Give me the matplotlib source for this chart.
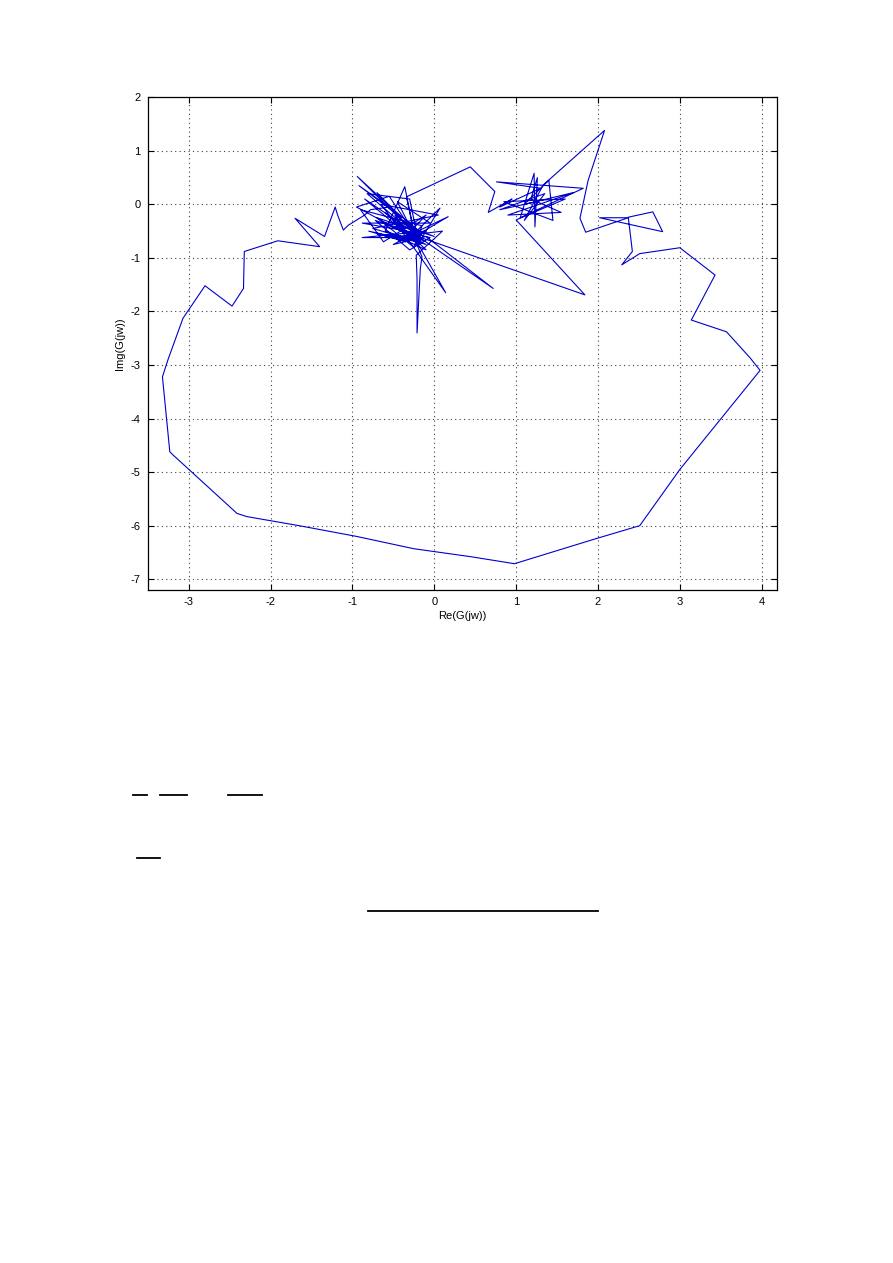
import numpy as np
import matplotlib
matplotlib.use('Agg')
import matplotlib.pyplot as plt
from matplotlib.lines import Line2D

plt.rcParams['font.family'] = ['Liberation Sans', 'DejaVu Sans']
plt.rcParams['axes.unicode_minus'] = False

# Nyquist path (Re, Im)
right_a = [(1.25, 0.05), (0.80, -0.10), (1.35, 0.20), (1.10, -0.30), (1.33, 0.36),
           (2.08, 1.38), (1.88, 0.45), (1.78, -0.26), (1.85, -0.52)]

tail = [(2.37, -0.25), (2.02, -0.25), (2.79, -0.51), (2.67, -0.14), (2.37, -0.24),
        (2.42, -0.88), (2.29, -1.13), (2.51, -0.92), (3.00, -0.81), (3.43, -1.32),
        (3.14, -2.16), (3.57, -2.38), (3.86, -2.87), (3.98, -3.10)]

loop = [(3.00, -4.95), (2.51, -6.00), (1.98, -6.24), (0.98, -6.71), (0.45, -6.58),
        (-0.25, -6.43), (-0.95, -6.20), (-1.65, -6.00), (-2.29, -5.83), (-2.41, -5.77),
        (-3.19, -4.68), (-3.23, -4.62), (-3.32, -3.22), (-3.25, -2.89), (-3.07, -2.13),
        (-2.80, -1.52)]

left_side = [(-2.47, -1.90), (-2.33, -1.57), (-2.32, -0.88), (-1.91, -0.68),
             (-1.40, -0.79), (-1.70, -0.26), (-1.34, -0.60), (-1.21, -0.05),
             (-1.18, -0.20), (-1.11, -0.48), (-1.05, -0.39), (-0.85, -0.20)]

center_a = [(-0.78, -0.10), (-0.55, -0.05), (-0.92, 0.35), (-0.40, -0.25), (-0.70, 0.22),
            (-0.30, -0.45), (-0.94, 0.52), (-0.50, -0.10), (-0.15, -0.55), (-0.88, -0.35),
            (-0.05, -0.35), (-0.45, 0.05), (-0.20, -0.70), (-0.75, -0.45), (0.05, -0.20),
            (-0.65, 0.00), (-0.35, -0.60), (-0.10, -0.20), (-0.62, -0.70), (-0.90, -0.10),
            (-0.15, -0.40), (-0.25, -0.80), (-0.70, -0.25), (0.00, -0.60), (-0.40, -0.35),
            (-0.82, 0.20), (-0.30, 0.10), (-0.20, -0.65), (-0.55, 0.15), (-0.95, -0.05),
            (-0.10, -0.75), (-0.60, -0.50), (-0.36, 0.33), (-0.25, -0.50), (-0.34, 0.14)]

right_b = [(0.44, 0.70), (0.74, 0.24), (0.66, -0.15), (0.95, 0.10), (0.80, -0.05),
           (1.30, 0.30), (0.76, 0.42), (1.82, 0.30), (1.05, -0.25), (1.22, 0.58),
           (1.23, -0.42), (1.26, 0.50), (1.18, 0.10), (1.55, -0.15), (0.90, -0.20),
           (1.70, 0.22), (1.10, 0.00), (1.40, 0.45), (1.45, -0.30), (0.85, 0.05),
           (1.60, 0.10), (1.00, -0.29), (1.84, -1.69)]

center_b = [(-0.05, -0.68), (-0.30, -0.55), (-0.10, -0.85), (-0.45, -0.60), (0.10, -0.50),
            (-0.22, -0.95), (-0.21, -1.40), (-0.21, -2.40), (-0.17, -1.20), (-0.15, -0.98),
            (-0.25, -0.60), (0.14, -1.65), (-0.30, -0.70), (-0.70, -0.55), (-0.15, -0.65),
            (0.72, -1.57), (-0.10, -0.60), (-0.50, -0.75), (-0.20, -0.50), (0.17, -0.23),
            (-0.35, -0.70), (-0.80, -0.50), (-0.15, -0.72), (-0.40, -0.50), (-0.05, -0.62),
            (-0.30, -0.85), (-0.72, -0.30), (-0.25, -0.55), (0.07, -0.07), (-0.20, -0.75),
            (-0.60, -0.15), (-0.25, -0.62), (-0.88, -0.62), (-0.10, -0.50), (-0.30, -0.65),
            (-0.48, -0.20), (-0.15, -0.55), (-0.22, -0.70), (-0.85, 0.10), (-0.18, -0.60),
            (-0.28, -0.45), (-0.55, -0.40), (-0.12, -0.68), (-0.35, -0.58), (-0.20, -0.62)]

segments = [right_a, tail, loop, left_side, center_a, right_b, center_b]
path = np.array([p for seg in segments for p in seg])
re_g = path[:, 0]
im_g = path[:, 1]

x_ticks = [-3, -2, -1, 0, 1, 2, 3, 4]
y_ticks = [-7, -6, -5, -4, -3, -2, -1, 0, 1, 2]

fig = plt.figure(figsize=(8.93, 12.63), dpi=100)
ax = fig.add_axes([0.1654, 0.5329, 0.705, 0.3901])

ax.plot(re_g, im_g, color='#0000cc', lw=0.8)

ax.set_xlim(-3.5, 4.19)
ax.set_ylim(-7.2, 2.0)
ax.set_xticks(x_ticks)
ax.set_yticks(y_ticks)
ax.grid(True, color='0.25', linestyle=(0, (1, 3)), lw=0.8)
ax.tick_params(direction='in', length=4, width=0.8, labelsize=8,
               top=True, right=True, pad=5)
for s in ax.spines.values():
    s.set_linewidth(0.9)

ax.set_xlabel('Re(G(jw))', fontsize=8, labelpad=3)
ax.set_ylabel('Img(G(jw))', fontsize=8, labelpad=4)

# leftover fraction bars of the page underneath the figure (pixel rows)
W, H = 893, 1263
bars = [(133, 147, 795), (160, 187, 795), (228, 262, 795), (137, 160, 858), (368, 598, 911)]
for x0, x1, y in bars:
    fig.add_artist(Line2D([x0 / W, x1 / W], [1 - y / H, 1 - y / H],
                          color='black', lw=1.3, transform=fig.transFigure))

fig.savefig('out.png', dpi=100)
